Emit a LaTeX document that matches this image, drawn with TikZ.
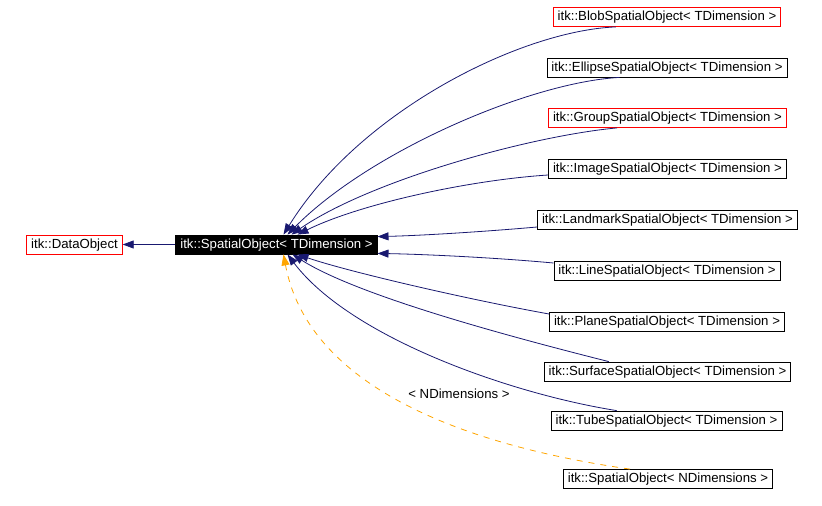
\documentclass[tikz,border=0pt]{standalone}
\usepackage{fontspec}
\setsansfont{Liberation Sans}
\usepackage{xcolor}
\usepackage{tikz}
\usetikzlibrary{arrows.meta,calc}
\definecolor{edgeblue}{RGB}{25,25,112}
\definecolor{tplorange}{RGB}{255,165,0}

\begin{document}
\begin{tikzpicture}[x=1pt,y=-1pt,font=\sffamily\fontsize{13.2}{15}\selectfont,
  >={Triangle[length=11pt,width=8pt]},line width=0.8pt,
  cls/.style={draw,minimum height=19pt,inner xsep=4.5pt,inner ysep=0pt,text height=9.5pt,text depth=2.5pt},
  redcls/.style={cls,draw=red},
  inh/.style={->,draw=edgeblue,fill=none},
  tpl/.style={->,draw=tplorange,dashed,dash pattern=on 6pt off 6pt}]
\useasboundingbox (0,0) rectangle (822,506);
\node[redcls] (data) at (74.5,244.5) {itk::DataObject};
\node[cls,fill=black,text=white] (so) at (276.5,244.5) {itk::SpatialObject< TDimension >};
\node[redcls] (blob) at (667,17) {itk::BlobSpatialObject< TDimension >};
\node[cls] (ellipse) at (667,67.5) {itk::EllipseSpatialObject< TDimension >};
\node[redcls] (group) at (667.5,118) {itk::GroupSpatialObject< TDimension >};
\node[cls] (image) at (667.5,169) {itk::ImageSpatialObject< TDimension >};
\node[cls] (landmark) at (667.5,219.5) {itk::LandmarkSpatialObject< TDimension >};
\node[cls] (line) at (667,270.5) {itk::LineSpatialObject< TDimension >};
\node[cls] (plane) at (667,321.5) {itk::PlaneSpatialObject< TDimension >};
\node[cls] (surface) at (667.5,371.5) {itk::SurfaceSpatialObject< TDimension >};
\node[cls] (tube) at (666.5,420.5) {itk::TubeSpatialObject< TDimension >};
\node[cls] (ndim) at (668,479) {itk::SpatialObject< NDimensions >};
% base class
\draw[inh] (so) -- (data);
% derived classes
\draw[inh] ($(blob.south west)+(63,0)$) .. controls +(-96,4) and +(76,-123) .. ($(so.north west)+(108,0)$);
\draw[inh] ($(ellipse.south west)+(73,0)$) .. controls +(-90,5) and +(82,-83) .. ($(so.north west)+(112,0)$);
\draw[inh] ($(group.south west)+(69,0)$) .. controls +(-87,8) and +(78,-54) .. ($(so.north west)+(116,0)$);
\draw[inh] ($(image.west)+(0,6)$) .. controls +(-78,5) and +(63,-31) .. ($(so.north west)+(122,0)$);
\draw[inh] ($(landmark.west)+(0,7.5)$) .. controls +(-57,5) and +(42,-1) .. ($(so.north east)+(0,2)$);
\draw[inh] ($(line.west)+(0,-7.5)$) .. controls +(-54,-5) and +(52,1) .. ($(so.south east)+(0,-1)$);
\draw[inh] ($(plane.west)+(0,-7.5)$) .. controls +(-78,-14) and +(53,18) .. ($(so.south west)+(122,0)$);
\draw[inh] ($(surface.north west)+(65,0)$) .. controls +(-87,-22) and +(68,43) .. ($(so.south west)+(117,0)$);
\draw[inh] ($(tube.north west)+(66,0)$) .. controls +(-107,-17) and +(63,83) .. ($(so.south west)+(112,0)$);
% template instance
\draw[tpl] ($(ndim.north west)+(67,0)$) .. controls +(-140,-20) and +(27,143) .. ($(so.south west)+(108,0)$);
\node (tplarg) at (459,394) {< NDimensions >};
\end{tikzpicture}
\end{document}
